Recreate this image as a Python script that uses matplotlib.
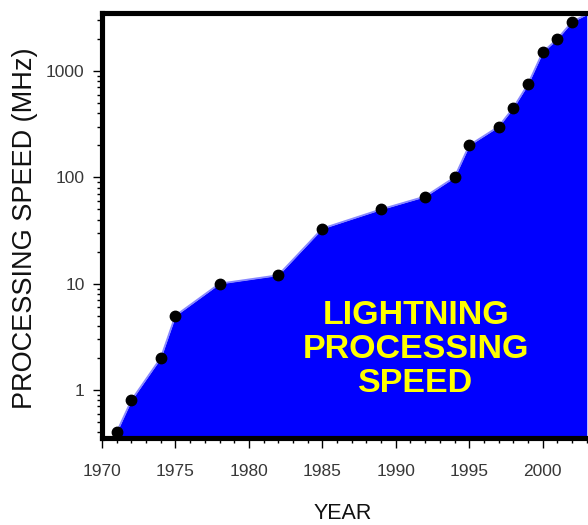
import numpy as np
import matplotlib
matplotlib.use("Agg")
import matplotlib.pyplot as plt
from matplotlib.ticker import FixedLocator, MultipleLocator, LogLocator, NullFormatter

# processor clock speed by year (MHz)
years = [1971, 1972, 1974, 1975, 1978, 1982, 1985, 1989, 1992, 1994,
         1995, 1997, 1998, 1999, 2000, 2001, 2002, 2003]
speed = [0.4, 0.8, 2, 5, 10, 12, 33, 50, 66, 100,
         200, 300, 450, 750, 1500, 2000, 2900, 3400]
ytick_vals = [1, 10, 100, 1000]
ytick_labels = ["1", "10", "100", "1000"]
xtick_vals = [1970, 1975, 1980, 1985, 1990, 1995, 2000]

W, H = 588, 525
fig = plt.figure(figsize=(W / 100, H / 100), dpi=100)
ax = fig.add_axes([102 / W, 1 - 438 / H, 1 - 102 / W, (438 - 12.5) / H])

ybot, ytop = 0.3535, 3548
ax.set_yscale("log")
ax.set_xlim(1970, 1970 + (588 - 102) / 14.69)
ax.set_ylim(ybot, ytop)

ax.fill_between(years, speed, ybot, color="#0000ff", lw=0, zorder=1)
ax.plot(years, speed, color="#8888ff", lw=1.3, zorder=2)
ax.plot(years[:-1], speed[:-1], "o", color="black", ms=7.5, zorder=3, clip_on=False)

for s in ["left", "top", "bottom"]:
    ax.spines[s].set_linewidth(3.7)
    ax.spines[s].set_zorder(5)
ax.spines["right"].set_visible(False)

font = ["Liberation Sans", "DejaVu Sans"]

ax.yaxis.set_major_locator(FixedLocator(ytick_vals))
ax.set_yticklabels(ytick_labels)
ax.yaxis.set_minor_locator(LogLocator(base=10, subs=np.arange(2, 10)))
ax.yaxis.set_minor_formatter(NullFormatter())
ax.xaxis.set_major_locator(FixedLocator(xtick_vals))
ax.xaxis.set_minor_locator(MultipleLocator(1))

ax.tick_params(axis="y", which="major", direction="out", length=6.5, width=1, pad=6,
               labelsize=12.5, labelcolor="#383838")
ax.tick_params(axis="y", which="minor", direction="out", length=3.3, width=1)
ax.tick_params(axis="x", which="major", direction="out", length=7.5, width=1, pad=11,
               labelsize=12.5, labelcolor="#383838")
ax.tick_params(axis="x", which="minor", direction="out", length=3.6, width=1)
for lab in ax.get_xticklabels() + ax.get_yticklabels():
    lab.set_family(font)

fig.text(25 / W, 1 - 228.5 / H, "PROCESSING SPEED (MHz)", rotation=90,
         ha="center", va="center", fontsize=19.5, color="#111111", family=font)
fig.text(343 / W, 1 - 513.5 / H, "YEAR", ha="center", va="center",
         fontsize=15.5, color="#111111", family=font)

fig.text(416 / W, 1 - 349.5 / H, "LIGHTNING\nPROCESSING\nSPEED", ha="center",
         va="center", multialignment="center", fontsize=24.5, fontweight="bold",
         color="#ffff00", linespacing=1.13, family=font)

fig.savefig("out.png", dpi=100)
